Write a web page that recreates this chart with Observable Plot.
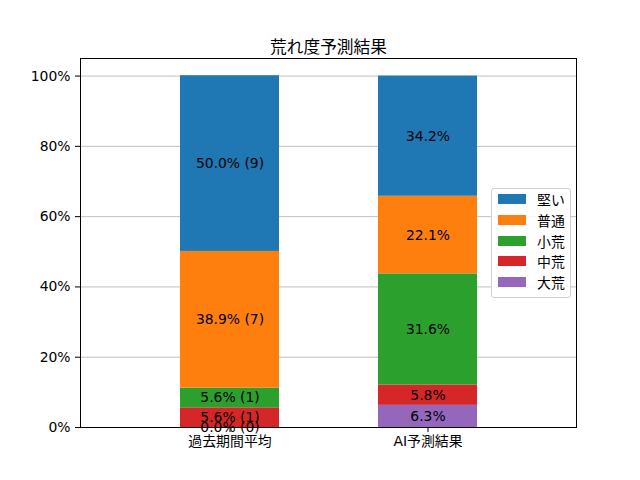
<!DOCTYPE html>
<html><head><meta charset="utf-8">
<script src="https://cdn.jsdelivr.net/npm/d3@7"></script>
<script src="https://cdn.jsdelivr.net/npm/@observablehq/plot@0.6"></script>
<style>
body{margin:0;background:#fff;font-family:"DejaVu Sans","Noto Sans CJK JP",sans-serif;}
#wrap{position:relative;width:640px;height:480px;}
#legend{position:absolute;left:491px;top:188px;width:80px;height:110px;box-sizing:border-box;border:1px solid #d0d0d0;border-radius:3px;background:rgba(255,255,255,0.85);font-size:13.9px;}
#legend .row{position:absolute;left:6px;height:16px;display:flex;align-items:center;}
#legend .sw{width:28px;height:10px;margin-right:11px;}
</style></head>
<body><div id="wrap"></div>
<script>
const bars = ["過去期間平均", "AI予測結果"];
const categories = ["大荒", "中荒", "小荒", "普通", "堅い"]; // bottom to top
const colors = ["#9467bd", "#d62728", "#2ca02c", "#ff7f0e", "#1f77b4"];
const pastPct = [0.0, 5.6, 5.6, 38.9, 50.0];
const pastCount = [0, 1, 1, 7, 9];
const aiPct = [6.3, 5.8, 31.6, 22.1, 34.2];
const yTicks = [0, 20, 40, 60, 80, 100];

const data = [];
categories.forEach((c, i) => data.push({bar: bars[0], cat: c, v: pastPct[i], label: `${pastPct[i].toFixed(1)}% (${pastCount[i]})`}));
categories.forEach((c, i) => data.push({bar: bars[1], cat: c, v: aiPct[i], label: `${aiPct[i].toFixed(1)}%`}));

const font = '"DejaVu Sans","Noto Sans CJK JP",sans-serif';
const chart = Plot.plot({
  width: 640, height: 480,
  marginLeft: 80, marginRight: 64, marginTop: 58, marginBottom: 53,
  style: {fontFamily: font, fontSize: "13.9px", color: "#000", background: "#fff"},
  x: {type: "band", domain: bars, padding: 0.5, label: null, tickSize: 5, tickPadding: 4},
  y: {domain: [0, 105], ticks: yTicks, tickFormat: d => d + "%", label: null, tickSize: 5, tickPadding: 5},
  color: {domain: categories, range: colors},
  marks: [
    Plot.gridY(yTicks, {stroke: "#b0b0b0", strokeOpacity: 1, strokeWidth: 0.8}),
    Plot.barY(data, Plot.stackY({x: "bar", y: "v", z: "cat", fill: "cat", order: null})),
    Plot.text(data, Plot.stackY({x: "bar", y: "v", z: "cat", text: "label", order: null, fill: "#000", fontSize: 13.9})),
    Plot.frame({stroke: "#000", strokeWidth: 1}),
    Plot.text(["荒れ度予測結果"], {frameAnchor: "top", dy: -17, fontSize: 16.7, fill: "#000"})
  ]
});
const wrap = document.getElementById("wrap");
wrap.appendChild(chart);
const leg = document.createElement("div");
leg.id = "legend";
const legendOrder = categories.slice().reverse();
legendOrder.forEach((c, i) => {
  const row = document.createElement("div");
  row.className = "row";
  row.style.top = (2 + i * 20.8) + "px";
  const sw = document.createElement("div");
  sw.className = "sw";
  sw.style.background = colors[categories.indexOf(c)];
  const t = document.createElement("span");
  t.textContent = c;
  row.appendChild(sw); row.appendChild(t);
  leg.appendChild(row);
});
wrap.appendChild(leg);
</script></body></html>
